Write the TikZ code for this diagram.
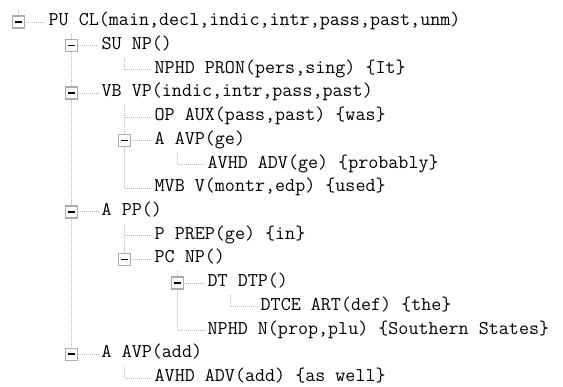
\documentclass[tikz,border=0pt]{standalone}
\usepackage{tikz}
\usetikzlibrary{positioning}

\tikzset{
  guide/.style={draw=gray!55, line width=0.8pt, dash pattern=on 0.8pt off 1.2pt},
  item/.style={anchor=west, inner xsep=3pt, inner ysep=4.6pt, text height=11pt, text depth=3.6pt,
    font=\ttfamily\fontsize{19.5}{22}\selectfont},
  expander/.style={draw=gray!65, line width=1.4pt, fill=white, minimum size=12pt, inner sep=0pt}
}
\newcommand{\minus}{\rule[-0.75pt]{7pt}{1.5pt}}

\begin{document}
\begin{tikzpicture}[x=53pt, y=-23.73pt]
    \useasboundingbox (-18.5pt,22pt) rectangle (544.5pt,-365pt);
    % one row per constituent, x = depth
    \coordinate (xPU) at (0,0);
    \coordinate (xSU) at (1,1);
    \coordinate (xIt) at (2,2);
    \coordinate (xVB) at (1,3);
    \coordinate (xwas) at (2,4);
    \coordinate (xAVPge) at (2,5);
    \coordinate (xprobably) at (3,6);
    \coordinate (xused) at (2,7);
    \coordinate (xPP) at (1,8);
    \coordinate (xin) at (2,9);
    \coordinate (xPC) at (2,10);
    \coordinate (xDT) at (3,11);
    \coordinate (xthe) at (4,12);
    \coordinate (xStates) at (3,13);
    \coordinate (xAVPadd) at (1,14);
    \coordinate (xaswell) at (2,15);

    \node[item, right=27pt of xPU] (PU) {PU CL(main,decl,indic,intr,pass,past,unm)};
    \node[item, right=27pt of xSU] (SU) {SU NP()};
    \node[item, right=27pt of xIt] (It) {NPHD PRON(pers,sing) \{It\}};
    \node[item, right=27pt of xVB] (VB) {VB VP(indic,intr,pass,past)};
    \node[item, right=27pt of xwas] (was) {OP AUX(pass,past) \{was\}};
    \node[item, right=27pt of xAVPge] (AVPge) {A AVP(ge)};
    \node[item, right=27pt of xprobably] (probably) {AVHD ADV(ge) \{probably\}};
    \node[item, right=27pt of xused] (used) {MVB V(montr,edp) \{used\}};
    \node[item, right=27pt of xPP] (PP) {A PP()};
    \node[item, right=27pt of xin] (in) {P PREP(ge) \{in\}};
    \node[item, right=27pt of xPC] (PC) {PC NP()};
    \node[item, right=27pt of xDT] (DT) {DT DTP()};
    \node[item, right=27pt of xthe] (the) {DTCE ART(def) \{the\}};
    \node[item, right=27pt of xStates] (States) {NPHD N(prop,plu) \{Southern States\}};
    \node[item, right=27pt of xAVPadd] (AVPadd) {A AVP(add)};
    \node[item, right=27pt of xaswell] (aswell) {AVHD ADV(add) \{as well\}};

    % dotted guides
    \draw[guide] (PU.north -| xPU) -- (xPU) -- (PU.west);
    \draw[guide] (PU.south -| xSU) -- (xAVPadd);
    \draw[guide] (xSU) -- (SU.west);
    \draw[guide] (xVB) -- (VB.west);
    \draw[guide] (xPP) -- (PP.west);
    \draw[guide] (xAVPadd) -- (AVPadd.west);
    \draw[guide] (SU.south -| xIt) -- (xIt) -- (It.west);
    \draw[guide] (VB.south -| xwas) -- (xused);
    \draw[guide] (xwas) -- (was.west);
    \draw[guide] (xAVPge) -- (AVPge.west);
    \draw[guide] (xused) -- (used.west);
    \draw[guide] (AVPge.south -| xprobably) -- (xprobably) -- (probably.west);
    \draw[guide] (PP.south -| xin) -- (xPC);
    \draw[guide] (xin) -- (in.west);
    \draw[guide] (xPC) -- (PC.west);
    \draw[guide] (PC.south -| xDT) -- (xStates);
    \draw[guide] (xDT) -- (DT.west);
    \draw[guide] (xStates) -- (States.west);
    \draw[guide] (DT.south -| xthe) -- (xthe) -- (the.west);
    \draw[guide] (AVPadd.south -| xaswell) -- (xaswell) -- (aswell.west);

    % expander boxes on top
    \node[expander] (bPU) at (xPU) {\minus};
    \node[expander] (bSU) at (xSU) {\minus};
    \node[expander] (bVB) at (xVB) {\minus};
    \node[expander] (bAVPge) at (xAVPge) {\minus};
    \node[expander] (bPP) at (xPP) {\minus};
    \node[expander] (bPC) at (xPC) {\minus};
    \node[expander] (bDT) at (xDT) {\minus};
    \node[expander] (bAVPadd) at (xAVPadd) {\minus};
\end{tikzpicture}
\end{document}
